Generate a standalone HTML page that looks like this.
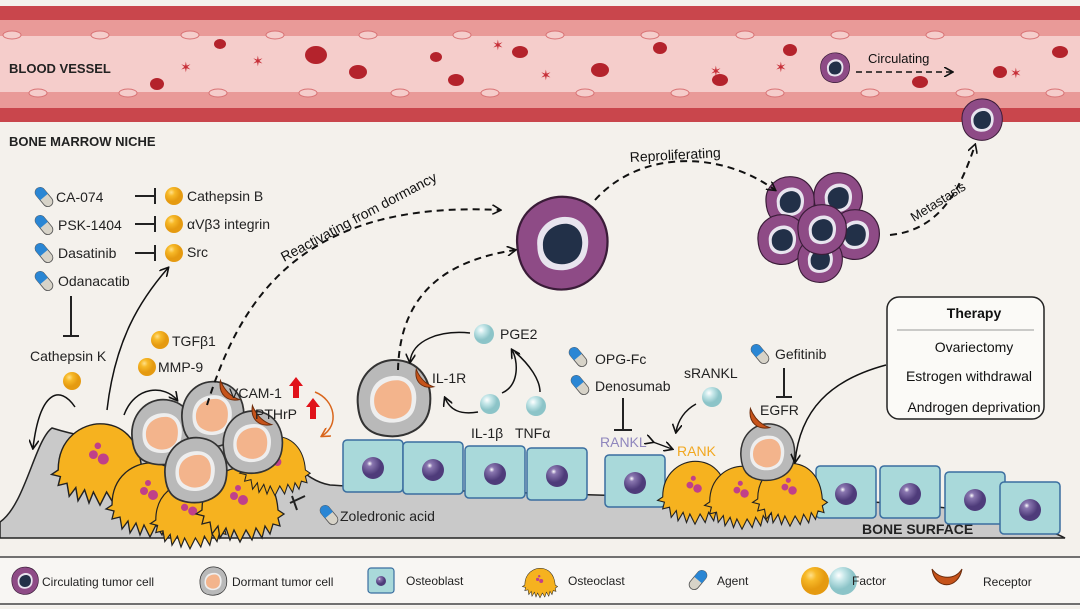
<!DOCTYPE html>
<html><head><meta charset="utf-8"><style>
html,body{margin:0;padding:0;background:#f4f1ec;}
svg{display:block;font-family:"Liberation Sans",Arial,sans-serif;}
</style></head><body>
<svg width="1080" height="609" viewBox="0 0 1080 609" xmlns="http://www.w3.org/2000/svg">
<defs>
<marker id="ar" markerWidth="10" markerHeight="10" refX="8" refY="5" orient="auto" markerUnits="userSpaceOnUse"><path d="M0,0 L9,5 L0,10" fill="none" stroke="#111" stroke-width="1.6"/></marker>
<marker id="aro" markerWidth="10" markerHeight="10" refX="8" refY="5" orient="auto" markerUnits="userSpaceOnUse"><path d="M0,0 L9,5 L0,10" fill="none" stroke="#d9661c" stroke-width="1.6"/></marker>
<radialGradient id="yb" cx="35%" cy="30%"><stop offset="0" stop-color="#ffe08a"/><stop offset="0.4" stop-color="#f7b928"/><stop offset="1" stop-color="#e59a10"/></radialGradient>
<radialGradient id="cb" cx="35%" cy="30%"><stop offset="0" stop-color="#ffffff"/><stop offset="0.4" stop-color="#c8e8ea"/><stop offset="1" stop-color="#8cc4c8"/></radialGradient>
<radialGradient id="nuc" cx="35%" cy="30%"><stop offset="0" stop-color="#fff"/><stop offset="0.25" stop-color="#8a77b0"/><stop offset="1" stop-color="#4e3b7a"/></radialGradient>
<g id="pill"><rect x="-5" y="-11" width="10" height="22" rx="5" fill="#d7d3c8" stroke="#555" stroke-width="0.8"/><path d="M-5,0 V-6 a5,5 0 0 1 10,0 V0 Z" fill="#2a86d4"/></g>
<g id="ob"><rect x="0" y="0" width="60" height="52" rx="4" fill="#a9d9da" stroke="#3a6ea0" stroke-width="1.5"/><circle cx="30" cy="28" r="11" fill="url(#nuc)"/></g>
<g id="dc"><path d="M-26,5 C-28,-14 -14,-30 4,-28 C22,-26 30,-10 27,8 C24,24 8,30 -6,28 C-20,26 -25,18 -26,5Z" fill="#b9b9b9" stroke="#333" stroke-width="1.5"/><path d="M-17,2 C-17,-12 -6,-18 6,-16 C17,-13 19,-2 16,8 C13,18 0,20 -8,17 C-15,14 -17,9 -17,2Z" fill="#eee"/><path d="M-14,2 C-14,-9 -4,-14 5,-13 C14,-11 15,-1 13,7 C10,15 0,17 -6,14 C-12,12 -14,7 -14,2Z" fill="#f3b48c"/></g>
<g id="oc"><path d="M-38,0 C-38,-30 -15,-42 0,-42 C20,-42 36,-28 38,0 L44,4 38,8 40,16 33,14 30,24 25,16 22,28 16,18 12,30 6,20 0,32 -6,20 -10,30 -14,18 -20,28 -22,16 -28,24 -30,12 -38,14 -36,6 -44,4Z" fill="#f6b21f" stroke="#222" stroke-width="1.3"/><circle cx="-6" cy="-14" r="4" fill="#c0408a"/><circle cx="3" cy="-10" r="5" fill="#c0408a"/><circle cx="-2" cy="-22" r="3" fill="#c0408a"/></g>
<g id="pc"><path d="M-40,0 C-42,-26 -20,-44 4,-42 C28,-40 44,-20 40,6 C36,30 14,44 -8,40 C-30,36 -39,20 -40,0Z" fill="#8e4b86" stroke="#3a1c38" stroke-width="2"/><path d="M-22,2 C-24,-15 -8,-26 6,-24 C22,-22 26,-6 22,8 C18,22 2,26 -10,22 C-19,19 -22,10 -22,2Z" fill="#e8e4ee"/><path d="M-17,2 C-18,-11 -6,-19 5,-18 C17,-16 20,-4 17,6 C14,17 2,20 -7,17 C-14,14 -17,8 -17,2Z" fill="#223048"/></g>
<g id="rc"><path d="M-8,-8 C-10,4 -2,10 8,8 C2,6 -4,2 -8,-8Z" fill="#c6531a" stroke="#6a2a0a" stroke-width="0.8"/></g>
</defs>

<rect width="1080" height="609" fill="#f4f1ec"/>
<!-- vessel -->
<rect x="0" y="6" width="1080" height="116" fill="#c9464c"/>
<rect x="0" y="20" width="1080" height="88" fill="#e99a98"/>
<rect x="0" y="36" width="1080" height="56" fill="#f5cdcb"/>
<g fill="#f5cdcb" stroke="#d87274" stroke-width="1">
<ellipse cx="12" cy="35" rx="9" ry="4"/><ellipse cx="100" cy="35" rx="9" ry="4"/><ellipse cx="190" cy="35" rx="9" ry="4"/><ellipse cx="275" cy="35" rx="9" ry="4"/><ellipse cx="368" cy="35" rx="9" ry="4"/><ellipse cx="462" cy="35" rx="9" ry="4"/><ellipse cx="555" cy="35" rx="9" ry="4"/><ellipse cx="650" cy="35" rx="9" ry="4"/><ellipse cx="745" cy="35" rx="9" ry="4"/><ellipse cx="840" cy="35" rx="9" ry="4"/><ellipse cx="935" cy="35" rx="9" ry="4"/><ellipse cx="1030" cy="35" rx="9" ry="4"/>
<ellipse cx="38" cy="93" rx="9" ry="4"/><ellipse cx="128" cy="93" rx="9" ry="4"/><ellipse cx="218" cy="93" rx="9" ry="4"/><ellipse cx="308" cy="93" rx="9" ry="4"/><ellipse cx="400" cy="93" rx="9" ry="4"/><ellipse cx="490" cy="93" rx="9" ry="4"/><ellipse cx="585" cy="93" rx="9" ry="4"/><ellipse cx="680" cy="93" rx="9" ry="4"/><ellipse cx="775" cy="93" rx="9" ry="4"/><ellipse cx="870" cy="93" rx="9" ry="4"/><ellipse cx="965" cy="93" rx="9" ry="4"/><ellipse cx="1055" cy="93" rx="9" ry="4"/>
</g>
<g fill="#b4232c">
<ellipse cx="220" cy="44" rx="6" ry="5"/><ellipse cx="316" cy="55" rx="11" ry="9"/><ellipse cx="358" cy="72" rx="9" ry="7"/><ellipse cx="157" cy="84" rx="7" ry="6"/><ellipse cx="436" cy="57" rx="6" ry="5"/><ellipse cx="456" cy="80" rx="8" ry="6"/><ellipse cx="520" cy="52" rx="8" ry="6"/><ellipse cx="600" cy="70" rx="9" ry="7"/><ellipse cx="660" cy="48" rx="7" ry="6"/><ellipse cx="720" cy="80" rx="8" ry="6"/><ellipse cx="790" cy="50" rx="7" ry="6"/><ellipse cx="920" cy="82" rx="8" ry="6"/><ellipse cx="1000" cy="72" rx="7" ry="6"/><ellipse cx="1060" cy="52" rx="8" ry="6"/>
</g>
<g fill="#c72f38" font-size="14"><text x="180" y="72">✶</text><text x="252" y="66">✶</text><text x="492" y="50">✶</text><text x="540" y="80">✶</text><text x="710" y="76">✶</text><text x="775" y="72">✶</text><text x="1010" y="78">✶</text></g>
<text x="9" y="73" font-size="13" font-weight="bold" fill="#222">BLOOD VESSEL</text>
<use href="#pc" transform="translate(835,68) scale(0.36)"/>
<text x="868" y="63" font-size="13" fill="#111">Circulating</text>
<path d="M856,72 H952" stroke="#111" stroke-width="1.5" stroke-dasharray="6,4" fill="none" marker-end="url(#ar)"/>

<text x="9" y="146" font-size="13" font-weight="bold" fill="#222">BONE MARROW NICHE</text>

<!-- bone -->
<path d="M0,538 L0,522 C25,505 35,440 52,428 C90,440 150,450 250,440 C290,450 300,480 330,485 C400,490 600,495 700,498 C800,500 900,500 960,510 C1010,518 1050,530 1065,538 Z" fill="#c9c9c9" stroke="#222" stroke-width="1.5"/>
<text x="862" y="534" font-size="14" font-weight="bold" fill="#222">BONE SURFACE</text>

<!-- osteoblasts -->
<use href="#ob" x="343" y="440"/><use href="#ob" x="403" y="442"/><use href="#ob" x="465" y="446"/><use href="#ob" x="527" y="448"/><use href="#ob" x="605" y="455"/>
<use href="#ob" x="816" y="466"/><use href="#ob" x="880" y="466"/><use href="#ob" x="945" y="472"/><use href="#ob" x="1000" y="482"/>

<!-- left osteoclasts -->
<use href="#oc" transform="translate(100,470) scale(1.1)"/>
<use href="#oc" transform="translate(150,505)"/>
<use href="#oc" transform="translate(190,520) scale(0.9)"/>
<use href="#oc" transform="translate(240,510)"/>
<use href="#oc" transform="translate(275,470) scale(0.8)"/>
<use href="#dc" transform="translate(162,432) scale(1.15)"/>
<use href="#dc" transform="translate(212,414) scale(1.15)"/>
<use href="#dc" transform="translate(252,442) scale(1.1)"/>
<use href="#dc" transform="translate(195,470) scale(1.15)"/>
<use href="#rc" transform="translate(230,390) scale(1.2)"/>
<use href="#rc" transform="translate(262,415) scale(1.2)"/>

<!-- right osteoclasts -->
<use href="#oc" transform="translate(695,497) scale(0.85)"/>
<use href="#oc" transform="translate(742,502) scale(0.85)"/>
<use href="#oc" transform="translate(790,499) scale(0.85)"/>
<use href="#dc" transform="translate(767,452)"/>
<use href="#rc" transform="translate(760,418) scale(1.2)"/>

<!-- dormant IL-1R -->
<use href="#dc" transform="translate(393,398) scale(1.35)"/>
<use href="#rc" transform="translate(425,378) scale(1.1)"/>

<!-- purple cells -->
<use href="#pc" transform="translate(562,244) scale(1.12)"/>
<g transform="translate(820,220)">
<use href="#pc" transform="translate(-30,-18) scale(0.6)"/><use href="#pc" transform="translate(18,-22) scale(0.6)"/><use href="#pc" transform="translate(-38,20) scale(0.6)"/><use href="#pc" transform="translate(35,15) scale(0.6)"/><use href="#pc" transform="translate(0,40) scale(0.55)"/><use href="#pc" transform="translate(2,10) scale(0.6)"/>
</g>
<use href="#pc" transform="translate(982,120) scale(0.5)"/>

<!-- dashed arrows -->
<g fill="none" stroke="#111" stroke-width="2" stroke-dasharray="7,5">
<path d="M207,405 C240,300 300,200 500,210" marker-end="url(#ar)"/>
<path d="M398,370 C400,290 450,260 515,250" marker-end="url(#ar)"/>
<path d="M595,200 C640,150 720,150 775,190" marker-end="url(#ar)"/>
<path d="M890,235 C940,230 960,190 975,145" marker-end="url(#ar)"/>
</g>
<text transform="translate(284,262) rotate(-28)" font-size="14" fill="#111">Reactivating from dormancy</text>
<text x="630" y="162" font-size="14" fill="#111" transform="rotate(-3,630,162)">Reproliferating</text>
<text transform="translate(914,222) rotate(-32)" font-size="13" fill="#111">Metastasis</text>

<!-- drug list -->
<g font-size="14" fill="#222">
<use href="#pill" transform="translate(44,197) rotate(-40)"/><text x="56" y="202">CA-074</text>
<use href="#pill" transform="translate(44,225) rotate(-40)"/><text x="58" y="230">PSK-1404</text>
<use href="#pill" transform="translate(44,253) rotate(-40)"/><text x="58" y="258">Dasatinib</text>
<use href="#pill" transform="translate(44,281) rotate(-40)"/><text x="58" y="286">Odanacatib</text>
<text x="187" y="201">Cathepsin B</text><text x="187" y="229">αVβ3 integrin</text><text x="187" y="257">Src</text>
</g>
<circle cx="174" cy="196" r="9" fill="url(#yb)"/><circle cx="174" cy="224" r="9" fill="url(#yb)"/><circle cx="174" cy="253" r="9" fill="url(#yb)"/>
<g stroke="#222" stroke-width="2"><path d="M135,196 H155 M155,188 V204 M135,224 H155 M155,216 V232 M135,253 H155 M155,245 V261"/>
<path d="M71,296 V336 M63,336 H79"/>
<path d="M305,496 L290,503 M292,496 L297,510"/></g>
<text x="30" y="361" font-size="14" fill="#222">Cathepsin K</text>
<circle cx="72" cy="381" r="9" fill="url(#yb)"/>
<path d="M107,410 C115,340 140,300 168,268" fill="none" stroke="#111" stroke-width="1.5" marker-end="url(#ar)"/>
<path d="M75,407 C60,385 40,390 33,448" fill="none" stroke="#111" stroke-width="1.5" marker-end="url(#ar)"/>
<path d="M124,415 C135,385 165,385 177,400" fill="none" stroke="#111" stroke-width="1.5" marker-end="url(#ar)"/>
<circle cx="160" cy="340" r="9" fill="url(#yb)"/><text x="172" y="346" font-size="14" fill="#222">TGFβ1</text>
<circle cx="147" cy="367" r="9" fill="url(#yb)"/><text x="158" y="372" font-size="14" fill="#222">MMP-9</text>
<text x="229" y="398" font-size="14" fill="#222">VCAM-1</text><text x="255" y="419" font-size="14" fill="#222">PTHrP</text>
<path d="M293,398 V386 h-4 l7,-9 7,9 h-4 v12z" fill="#e0121a"/><path d="M310,419 V407 h-4 l7,-9 7,9 h-4 v12z" fill="#e0121a"/>
<path d="M315,392 C335,400 340,425 322,436" fill="none" stroke="#d9661c" stroke-width="1.5" marker-end="url(#aro)"/>
<use href="#pill" transform="translate(329,515) rotate(-40)"/><text x="340" y="521" font-size="14" fill="#222">Zoledronic acid</text>

<!-- IL-1 area -->
<circle cx="484" cy="334" r="10" fill="url(#cb)"/><text x="500" y="339" font-size="14" fill="#222">PGE2</text>
<circle cx="490" cy="404" r="10" fill="url(#cb)"/><circle cx="536" cy="406" r="10" fill="url(#cb)"/>
<text x="471" y="438" font-size="14" fill="#222">IL-1β</text><text x="515" y="438" font-size="14" fill="#222">TNFα</text>
<text x="432" y="383" font-size="14" fill="#222">IL-1R</text>
<path d="M470,333 C440,330 412,340 410,362" fill="none" stroke="#111" stroke-width="1.5" marker-end="url(#ar)"/>
<path d="M478,412 C460,415 450,410 445,398" fill="none" stroke="#111" stroke-width="1.5" marker-end="url(#ar)"/>
<path d="M502,393 C520,385 518,360 512,350" fill="none" stroke="#111" stroke-width="1.5" marker-end="url(#ar)"/>
<path d="M540,392 C540,380 530,365 515,352" fill="none" stroke="#111" stroke-width="1.5"/>

<!-- RANK area -->
<use href="#pill" transform="translate(578,357) rotate(-40)"/><text x="595" y="364" font-size="14" fill="#222">OPG-Fc</text>
<use href="#pill" transform="translate(580,385) rotate(-40)"/><text x="595" y="391" font-size="14" fill="#222">Denosumab</text>
<text x="684" y="378" font-size="14" fill="#222">sRANKL</text>
<circle cx="712" cy="397" r="10" fill="url(#cb)"/>
<path d="M696,404 C685,410 678,420 676,432" fill="none" stroke="#111" stroke-width="1.5" marker-end="url(#ar)"/>
<path d="M623,398 V430 M614,430 H632" stroke="#222" stroke-width="2"/>
<text x="600" y="447" font-size="14" fill="#8f86bd">RANKL</text>
<text x="677" y="456" font-size="14" fill="#f2a820">RANK</text>
<path d="M653,442 L672,449" stroke="#111" stroke-width="1.3" marker-end="url(#ar)" marker-start="url(#ar)"/>
<use href="#pill" transform="translate(760,354) rotate(-40)"/><text x="775" y="359" font-size="14" fill="#222">Gefitinib</text>
<path d="M784,368 V397 M776,397 H792" stroke="#222" stroke-width="2"/>
<text x="760" y="415" font-size="14" fill="#222">EGFR</text>

<!-- therapy box -->
<rect x="887" y="297" width="157" height="122" rx="12" fill="#fbfaf7" stroke="#222" stroke-width="1.5"/>
<text x="974" y="318" font-size="14" font-weight="bold" text-anchor="middle" fill="#111">Therapy</text>
<line x1="897" y1="330" x2="1034" y2="330" stroke="#999"/>
<text x="974" y="352" font-size="14" text-anchor="middle" fill="#111">Ovariectomy</text>
<text x="969" y="381" font-size="14" text-anchor="middle" fill="#111">Estrogen withdrawal</text>
<text x="974" y="412" font-size="14" text-anchor="middle" fill="#111">Androgen deprivation</text>
<path d="M886,365 C830,380 800,410 795,462" fill="none" stroke="#111" stroke-width="1.5" marker-end="url(#ar)"/>

<!-- legend -->
<rect x="0" y="556" width="1080" height="50" fill="#f8f6f3"/>
<line x1="0" y1="557" x2="1080" y2="557" stroke="#444" stroke-width="1.5"/>
<line x1="0" y1="604" x2="1080" y2="604" stroke="#444" stroke-width="1.5"/>
<use href="#pc" transform="translate(25,581) scale(0.33)"/><text x="42" y="586" font-size="12" fill="#222">Circulating tumor cell</text>
<use href="#dc" transform="translate(213,581) scale(0.5)"/><text x="232" y="586" font-size="12" fill="#222">Dormant tumor cell</text>
<rect x="368" y="568" width="26" height="25" rx="3" fill="#a9d9da" stroke="#3a6ea0" stroke-width="1.2"/><circle cx="381" cy="581" r="5" fill="url(#nuc)"/><text x="406" y="585" font-size="12" fill="#222">Osteoblast</text>
<use href="#oc" transform="translate(540,585) scale(0.4)"/><text x="568" y="585" font-size="12" fill="#222">Osteoclast</text>
<use href="#pill" transform="translate(698,580) rotate(40)"/><text x="717" y="585" font-size="12" fill="#222">Agent</text>
<circle cx="815" cy="581" r="14" fill="url(#yb)"/><circle cx="843" cy="581" r="14" fill="url(#cb)"/><text x="852" y="585" font-size="12" fill="#222">Factor</text>
<path d="M932,569 C935,590 958,590 962,569 C955,580 940,580 932,569Z" fill="#c6531a" stroke="#6a2a0a"/>
<text x="983" y="586" font-size="12" fill="#222">Receptor</text>
</svg>
</body></html>
